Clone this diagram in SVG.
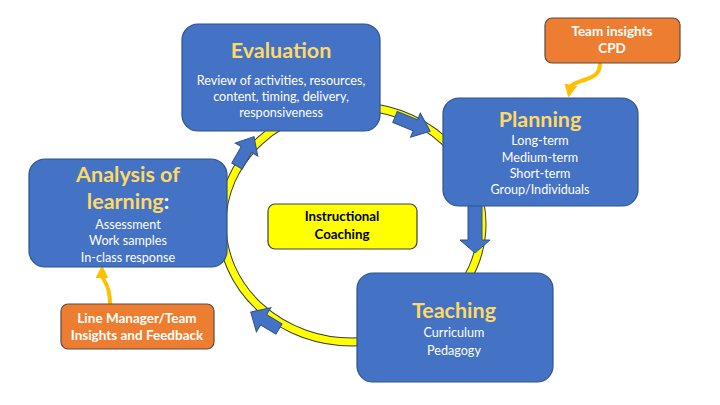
<svg xmlns="http://www.w3.org/2000/svg" width="720" height="405" viewBox="0 0 720 405">
<defs>
<style>
.box{fill:#4472C4;stroke:#2F528F;stroke-width:1.2}
.obox{fill:#ED7D31;stroke:#5E4A40;stroke-width:1.2}
.ybox{fill:#FFFF00;stroke:#404040;stroke-width:1.2}
.title{font-family:Lato,"Noto Sans",sans-serif;font-weight:bold;font-size:21.5px;fill:#FFD966;text-anchor:middle}
.body{font-family:Lato,"Noto Sans",sans-serif;font-size:12.6px;fill:#FFFFFF;text-anchor:middle}
.obody{font-family:Lato,"Noto Sans",sans-serif;font-weight:bold;font-size:13.5px;fill:#FFFFFF;text-anchor:middle}
.ybody{font-family:Lato,"Noto Sans",sans-serif;font-weight:bold;font-size:13.3px;fill:#000000;text-anchor:middle}
.blk{fill:#4472C4;stroke:#2F528F;stroke-width:1}
.gold{fill:none;stroke:#FFC000;stroke-width:4}
</style>
<marker id="gh" viewBox="0 0 12 12" refX="4" refY="6" markerWidth="13" markerHeight="13" markerUnits="userSpaceOnUse" orient="auto">
<path d="M0,0 L12,6 L0,12 z" fill="#FFC000"/>
</marker>
</defs>
<g id="connectors">
<ellipse cx="352" cy="224" rx="130" ry="118" fill="none" stroke="#3a3a3a" stroke-width="9"/>
<ellipse cx="352" cy="224" rx="130" ry="118" fill="none" stroke="#FFFF00" stroke-width="7"/>
<polygon class="blk" transform="translate(395,117) rotate(22)" points="0,-6 22,-6 22,-13 38,0 22,13 22,6 0,6"/>
<polygon class="blk" transform="translate(475,200) rotate(90)" points="0,-7 40,-7 40,-15 53,0 40,15 40,7 0,7"/>
<polygon class="blk" transform="translate(279,329) rotate(211)" points="0,-6 18,-6 18,-14 33,0 18,14 18,6 0,6"/>
<polygon class="blk" transform="translate(237,166) rotate(-60)" points="0,-6 19,-6 19,-13 34,0 19,13 19,6 0,6"/>
<path class="gold" d="M600,63 C600,74 594,77 584,80 C575,83 571,84 570,89" marker-end="url(#gh)"/>
<path class="gold" d="M110,304 C110,292 108,286 104,280 C103,278 102,277 102,274" marker-end="url(#gh)"/>
</g>
<g id="evaluation">
<rect class="box" x="182" y="24" width="198" height="107" rx="16"/>
<text class="title" x="281" y="58">Evaluation</text>
<text class="body" x="281" y="85">Review of activities, resources,</text>
<text class="body" x="281" y="101">content, timing, delivery,</text>
<text class="body" x="281" y="117">responsiveness</text>
</g>
<g id="planning">
<rect class="box" x="443" y="98" width="195" height="108" rx="16"/>
<text class="title" x="540" y="127">Planning</text>
<text class="body" x="540" y="145">Long-term</text>
<text class="body" x="540" y="162">Medium-term</text>
<text class="body" x="540" y="178">Short-term</text>
<text class="body" x="540" y="194">Group/Individuals</text>
</g>
<g id="analysis">
<rect class="box" x="29" y="159" width="198" height="108" rx="16"/>
<text class="title" x="128" y="182">Analysis of</text>
<text class="title" x="128" y="209">learning<tspan fill="#FFFFFF">:</tspan></text>
<text class="body" x="128" y="229">Assessment</text>
<text class="body" x="128" y="245">Work samples</text>
<text class="body" x="128" y="262">In-class response</text>
</g>
<g id="teaching">
<rect class="box" x="357" y="273" width="196" height="109" rx="16"/>
<text class="title" x="454" y="318">Teaching</text>
<text class="body" x="454" y="337">Curriculum</text>
<text class="body" x="454" y="355">Pedagogy</text>
</g>
<g id="coaching">
<rect class="ybox" x="268" y="204" width="149" height="45" rx="7"/>
<text class="ybody" x="342" y="221">Instructional</text>
<text class="ybody" x="342" y="239">Coaching</text>
</g>
<g id="team-insights">
<rect class="obox" x="545" y="18" width="135" height="45" rx="7"/>
<text class="obody" x="612" y="36">Team insights</text>
<text class="obody" x="612" y="53">CPD</text>
</g>
<g id="line-manager">
<rect class="obox" x="61" y="304" width="153" height="45" rx="7"/>
<text class="obody" x="137" y="323">Line Manager/Team</text>
<text class="obody" x="137" y="340">Insights and Feedback</text>
</g>
</svg>
